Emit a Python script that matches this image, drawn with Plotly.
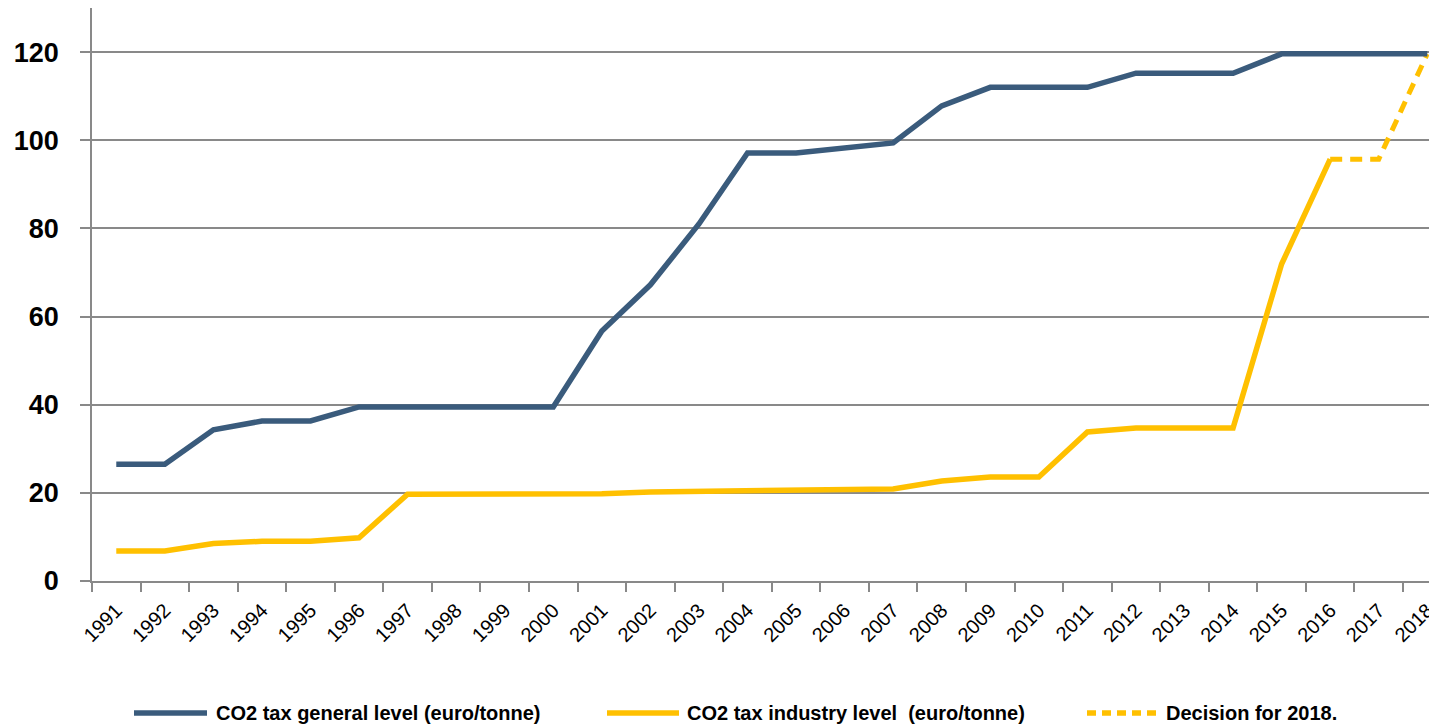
import plotly.graph_objects as go

years = [str(y) for y in range(1991, 2019)]
general = [26.5, 26.5, 34.3, 36.3, 36.3, 39.5, 39.5, 39.5, 39.5, 39.5,
           56.7, 67.2, 81.0, 97.1, 97.1, 98.2, 99.4, 107.8, 112.0, 112.0,
           112.0, 115.2, 115.2, 115.2, 119.6, 119.6, 119.6, 119.6]
industry_years = [str(y) for y in range(1991, 2017)]
industry = [6.8, 6.8, 8.5, 9.0, 9.0, 9.8, 19.7, 19.7, 19.7, 19.7,
            19.8, 20.2, 20.3, 20.4, 20.4, 20.6, 20.9, 22.7, 23.6, 23.6,
            33.8, 34.7, 34.7, 34.7, 71.9, 95.7]
decision_years = ["2016", "2017", "2018"]
decision = [95.7, 95.7, 119.6]

names = ["CO2 tax general level (euro/tonne)",
         "CO2 tax industry level  (euro/tonne)",
         "Decision for 2018."]

BLUE = "#3A5B7C"
YELLOW = "#FFC000"
GRID = "#898989"

fig = go.Figure()
fig.add_trace(go.Scatter(x=industry_years, y=industry, mode="lines",
                         line=dict(color=YELLOW, width=5.5), showlegend=False))
fig.add_trace(go.Scatter(x=decision_years, y=decision, mode="lines",
                         line=dict(color=YELLOW, width=5, dash="12px,8px"), showlegend=False))
fig.add_trace(go.Scatter(x=years, y=general, mode="lines",
                         line=dict(color=BLUE, width=5.5), showlegend=False))

# page has an 8px body margin: figure pixel = image pixel - 8
OFF = 8
# custom legend (paper coordinates, computed from image pixels)
W, H, L, B = 1345.0, 573.0, 92.0, 581.0
def px(x):
    return (x - L) / W
def py(y):
    return (B - y) / H

ly = py(713)
legend_items = [
    (134, 207, 214, BLUE, "solid", names[0]),
    (607, 679, 685, YELLOW, "solid", names[1]),
    (1087, 1160, 1164, YELLOW, "dot", names[2]),
]
shapes = []
annotations = []
for x0, x1, xt, col, dash, txt in legend_items:
    shapes.append(dict(type="line", xref="paper", yref="paper",
                       x0=px(x0), x1=px(x1), y0=ly, y1=ly,
                       line=dict(color=col, width=5.5,
                                 dash=("solid" if dash == "solid" else "9px,6px"))))
    annotations.append(dict(xref="paper", yref="paper", x=px(xt), y=ly,
                            xanchor="left", yanchor="middle", showarrow=False,
                            text="<b>" + txt + "</b>",
                            font=dict(family="Liberation Sans Narrow, Arial Narrow, Liberation Sans",
                                      size=20, color="#000000")))

fig.update_layout(
    width=1437 - OFF, height=728 - OFF,
    margin=dict(l=92 - OFF, r=0, t=8 - OFF, b=147, pad=0, autoexpand=False),
    paper_bgcolor="white", plot_bgcolor="white",
    shapes=shapes, annotations=annotations,
    xaxis=dict(type="category", range=[-0.5, 27.2], tickson="boundaries",
               automargin=False,
               showgrid=False, showline=True, linecolor=GRID, linewidth=1.5,
               ticks="outside", ticklen=9, tickcolor=GRID, tickwidth=1.5,
               tickangle=-45, ticklabelstandoff=8,
               tickfont=dict(family="Liberation Sans, Arial", size=20, color="#000000")),
    yaxis=dict(range=[0, 130], tickvals=[0, 20, 40, 60, 80, 100, 120],
               automargin=False,
               showgrid=True, gridcolor=GRID, gridwidth=1.5,
               showline=True, linecolor=GRID, linewidth=1.5,
               ticks="outside", ticklen=10, tickcolor=GRID, tickwidth=1.5,
               ticklabelstandoff=16, zeroline=False,
               tickfont=dict(family="Liberation Sans, Arial", size=27, color="#000000",
                             weight="bold")),
)

fig.write_html("out.html")
